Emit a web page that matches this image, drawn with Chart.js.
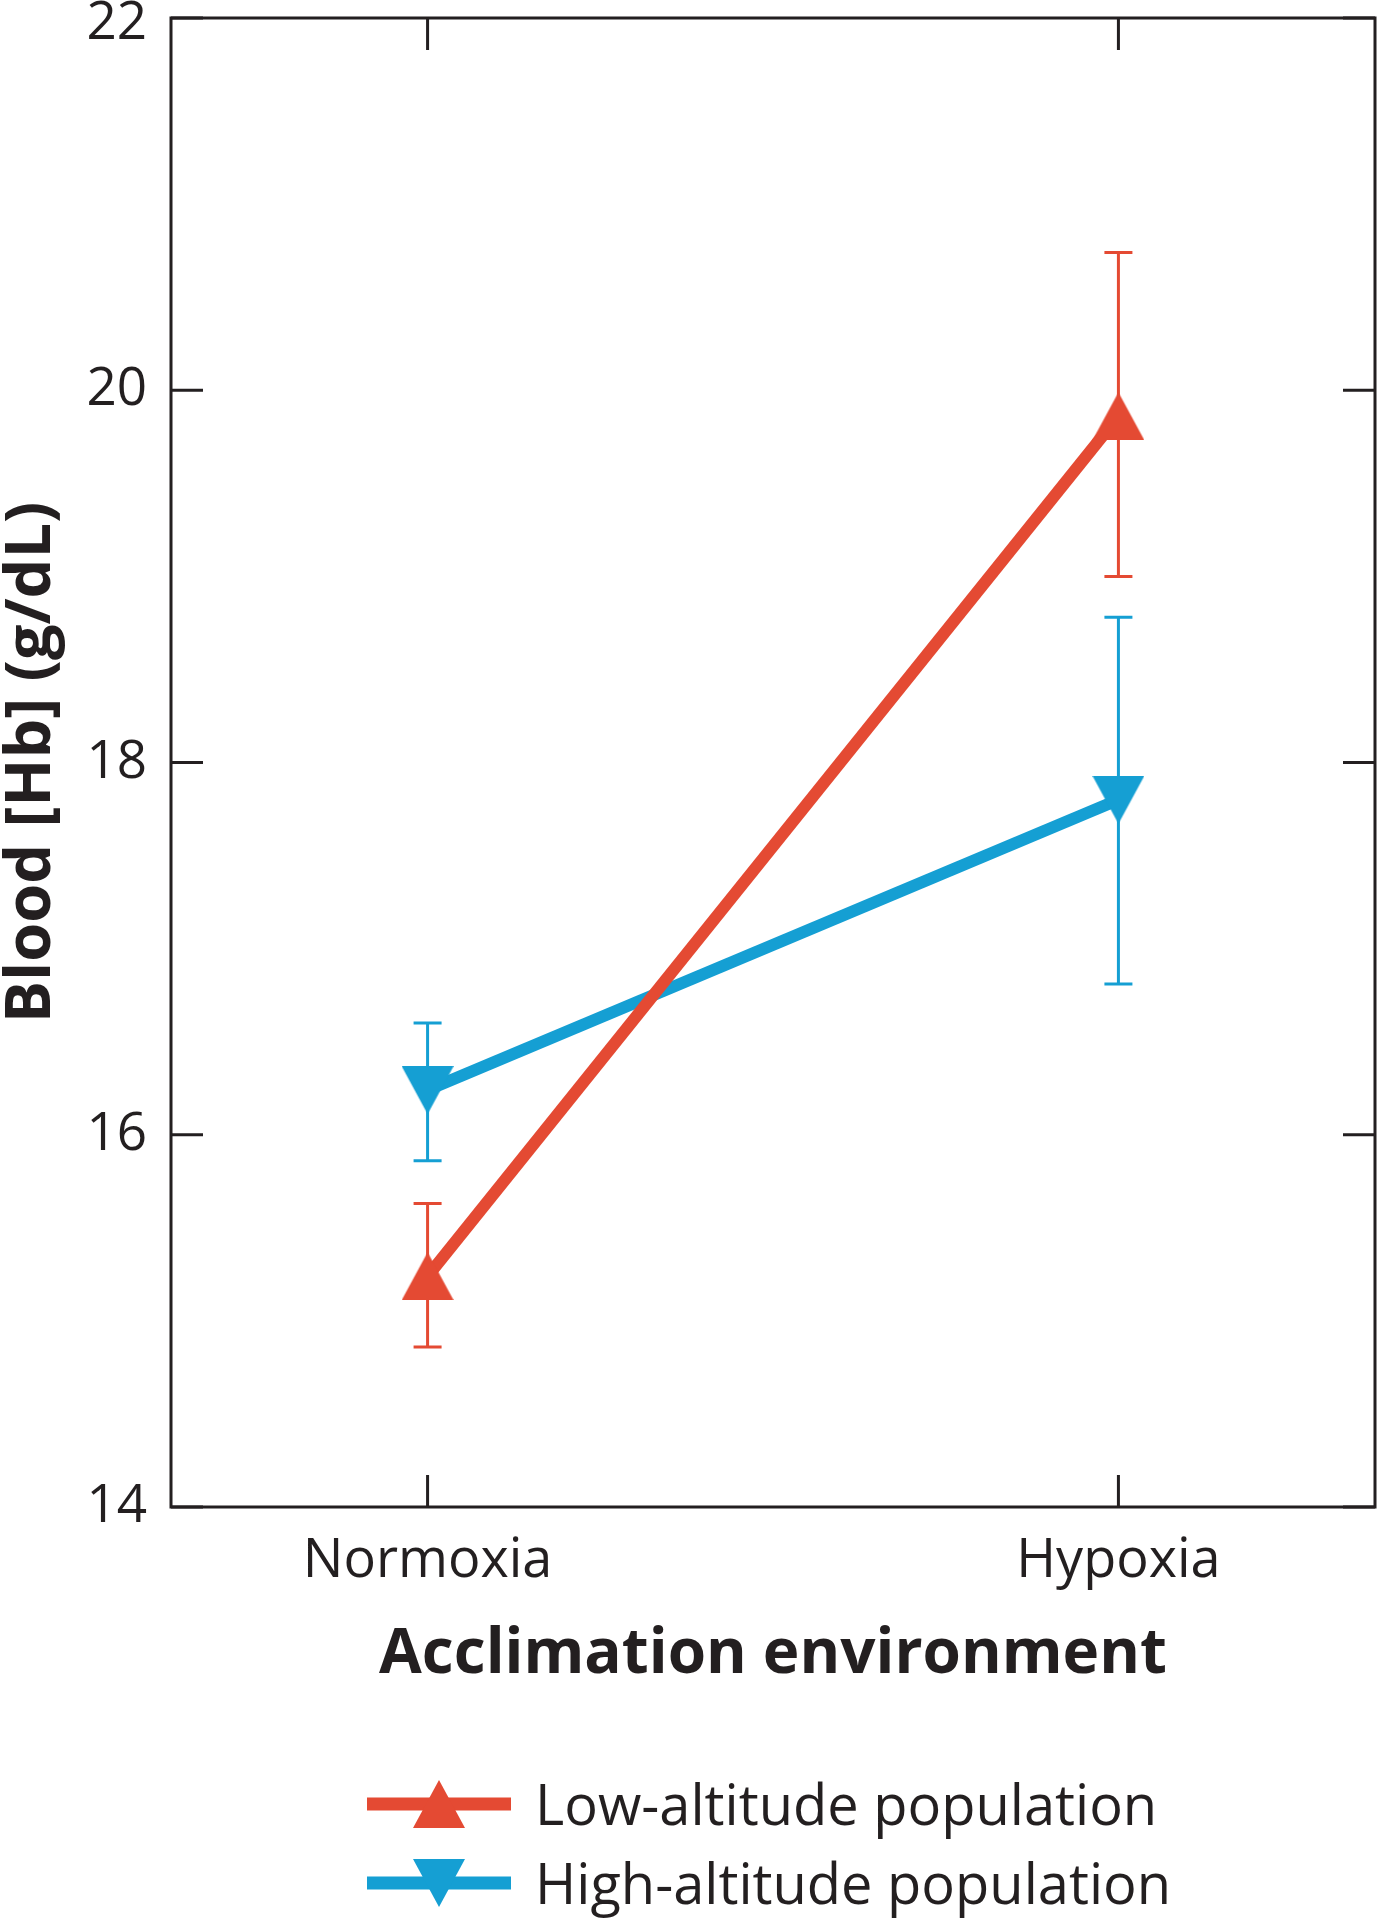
<!DOCTYPE html>
<html>
<head>
<meta charset="utf-8">
<title>Blood [Hb] vs acclimation environment</title>
<script src="https://cdn.jsdelivr.net/npm/chart.js@4.4.0/dist/chart.umd.min.js"></script>
<style>
  html, body { margin: 0; padding: 0; background: #fff; }
  #wrap { width: 1378px; height: 1920px; }
</style>
</head>
<body>
<div id="wrap"><canvas id="hbChart" width="1378" height="1920"></canvas></div>
<script>
/* Datos */

const categories = ["Normoxia", "Hypoxia"];
const seriesNames = ["Low-altitude population", "High-altitude population"];

const lowAltitude = [15.24, 19.86];
const lowAltitudeMin = [14.86, 19.00];
const lowAltitudeMax = [15.63, 20.74];

const highAltitude = [16.24, 17.80];
const highAltitudeMin = [15.86, 16.81];
const highAltitudeMax = [16.60, 18.78];

const yTicks = [14, 16, 18, 20, 22];

const rojo = "#e44a33";
const azul = "#159fd3";
const negro = "#231f20";
const fuente = "'Open Sans', Lato, sans-serif";

/* Triángulo como pointStyle (canvas) */

const makeTriangle = (color, w, h, down) => {
    const c = document.createElement("canvas");
    c.width = w;
    c.height = h;
    const ctx = c.getContext("2d");
    ctx.fillStyle = color;
    ctx.beginPath();
    if (down) {
        ctx.moveTo(0, 0);
        ctx.lineTo(w, 0);
        ctx.lineTo(w / 2, h);
    } else {
        ctx.moveTo(w / 2, 0);
        ctx.lineTo(w, h);
        ctx.lineTo(0, h);
    }
    ctx.closePath();
    ctx.fill();
    return c;
}

const triUp = makeTriangle(rojo, 52, 48, false);
const triDown = makeTriangle(azul, 52, 48, true);

const toPoints = (values) => values.map((v, i) => ({ x: i, y: v }));

/* Plugin: marco y marcas hacia adentro */

const frameTicks = {
    id: "frameTicks",
    beforeDatasetsDraw(chart) {
        const { ctx, chartArea: a } = chart;
        const xs = chart.scales.x;
        const ys = chart.scales.y;
        const len = 32;
        ctx.save();
        ctx.strokeStyle = negro;
        ctx.lineWidth = 3;
        ctx.strokeRect(a.left, a.top, a.right - a.left, a.bottom - a.top);
        ctx.beginPath();
        ys.ticks.forEach((t) => {
            const py = ys.getPixelForValue(t.value);
            ctx.moveTo(a.left, py); ctx.lineTo(a.left + len, py);
            ctx.moveTo(a.right, py); ctx.lineTo(a.right - len, py);
        });
        xs.ticks.forEach((t) => {
            const px = xs.getPixelForValue(t.value);
            ctx.moveTo(px, a.bottom); ctx.lineTo(px, a.bottom - len);
            ctx.moveTo(px, a.top); ctx.lineTo(px, a.top + len);
        });
        ctx.stroke();
        ctx.restore();
    }
}

/* Plugin: barras de error */

const errorBars = {
    id: "errorBars",
    beforeDatasetsDraw(chart) {
        const ctx = chart.ctx;
        const xs = chart.scales.x;
        const ys = chart.scales.y;
        chart.data.datasets.forEach((ds) => {
            ctx.save();
            ctx.strokeStyle = ds.borderColor;
            ctx.lineWidth = 3;
            ctx.beginPath();
            ds.data.forEach((p, i) => {
                const px = xs.getPixelForValue(p.x);
                const top = ys.getPixelForValue(ds.errMax[i]);
                const bot = ys.getPixelForValue(ds.errMin[i]);
                ctx.moveTo(px, top); ctx.lineTo(px, bot);
                ctx.moveTo(px - 14, top); ctx.lineTo(px + 14, top);
                ctx.moveTo(px - 14, bot); ctx.lineTo(px + 14, bot);
            });
            ctx.stroke();
            ctx.restore();
        });
    }
}

/* Plugin: leyenda abajo */

const bottomLegend = {
    id: "bottomLegend",
    afterDraw(chart) {
        const ctx = chart.ctx;
        const base = chart.chartArea.bottom + 297;
        const rowGap = 79;
        chart.data.datasets.forEach((ds, i) => {
            const y = base + i * rowGap;
            ctx.save();
            ctx.strokeStyle = ds.borderColor;
            ctx.lineWidth = 13;
            ctx.beginPath();
            ctx.moveTo(367, y);
            ctx.lineTo(511, y);
            ctx.stroke();
            const img = ds.pointStyle;
            ctx.drawImage(img, 439 - img.width / 2, y - img.height / 2);
            ctx.fillStyle = negro;
            ctx.font = `56px ${fuente}`;
            ctx.textBaseline = "alphabetic";
            ctx.fillText(ds.label, 535, y + 21);
            ctx.restore();
        });
    }
}

/* Gráfico */

const config = {
    type: "line",
    data: {
        datasets: [
            {
                label: seriesNames[0],
                data: toPoints(lowAltitude),
                errMin: lowAltitudeMin,
                errMax: lowAltitudeMax,
                borderColor: rojo,
                backgroundColor: rojo,
                borderWidth: 12,
                pointStyle: triUp,
                pointRadius: 26,
                tension: 0
            },
            {
                label: seriesNames[1],
                data: toPoints(highAltitude),
                errMin: highAltitudeMin,
                errMax: highAltitudeMax,
                borderColor: azul,
                backgroundColor: azul,
                borderWidth: 12,
                pointStyle: triDown,
                pointRadius: 26,
                tension: 0
            }
        ]
    },
    options: {
        responsive: false,
        animation: false,
        layout: { autoPadding: false, padding: { top: 18, right: 3, bottom: 210, left: 0 } },
        plugins: {
            legend: { display: false },
            tooltip: { enabled: false }
        },
        scales: {
            x: {
                type: "linear",
                min: -0.3714,
                max: 1.3714,
                grid: { display: false, drawTicks: false },
                border: { display: false },
                afterBuildTicks: (scale) => {
                    scale.ticks = categories.map((c, i) => ({ value: i }));
                },
                afterFit: (scale) => {
                    scale.height = 203;
                    scale.paddingLeft = 0;
                    scale.paddingRight = 0;
                },
                ticks: {
                    color: negro,
                    padding: 28,
                    maxRotation: 0,
                    font: { family: fuente, size: 54, lineHeight: 1 },
                    callback: (v) => categories[v] ?? ""
                },
                title: {
                    display: true,
                    text: "Acclimation environment",
                    color: negro,
                    padding: { top: 0, bottom: 24 },
                    font: { family: fuente, size: 62, weight: "bold", lineHeight: 1 }
                }
            },
            y: {
                min: 14,
                max: 22,
                grid: { display: false, drawTicks: false },
                border: { display: false },
                afterBuildTicks: (scale) => {
                    scale.ticks = yTicks.map((v) => ({ value: v }));
                },
                afterFit: (scale) => {
                    scale.width = 171;
                    scale.paddingTop = 0;
                    scale.paddingBottom = 0;
                },
                ticks: {
                    color: negro,
                    padding: 24,
                    // la etiqueta de arriba baja un poco para que no se corte
                    font: (c) => ({ family: fuente, size: 53, lineHeight: c.tick && c.tick.value === 22 ? 0.24 : 1 }),
                    callback: (v) => v === 22 ? ["", String(v)] : String(v)
                },
                title: {
                    display: true,
                    text: "Blood [Hb] (g/dL)",
                    color: negro,
                    padding: { top: 1, bottom: 0 },
                    font: { family: fuente, size: 63, weight: "bold", lineHeight: 1 }
                }
            }
        }
    },
    plugins: [frameTicks, errorBars, bottomLegend]
}

const hbChart = new Chart(document.getElementById("hbChart"), config);
</script>
</body>
</html>
